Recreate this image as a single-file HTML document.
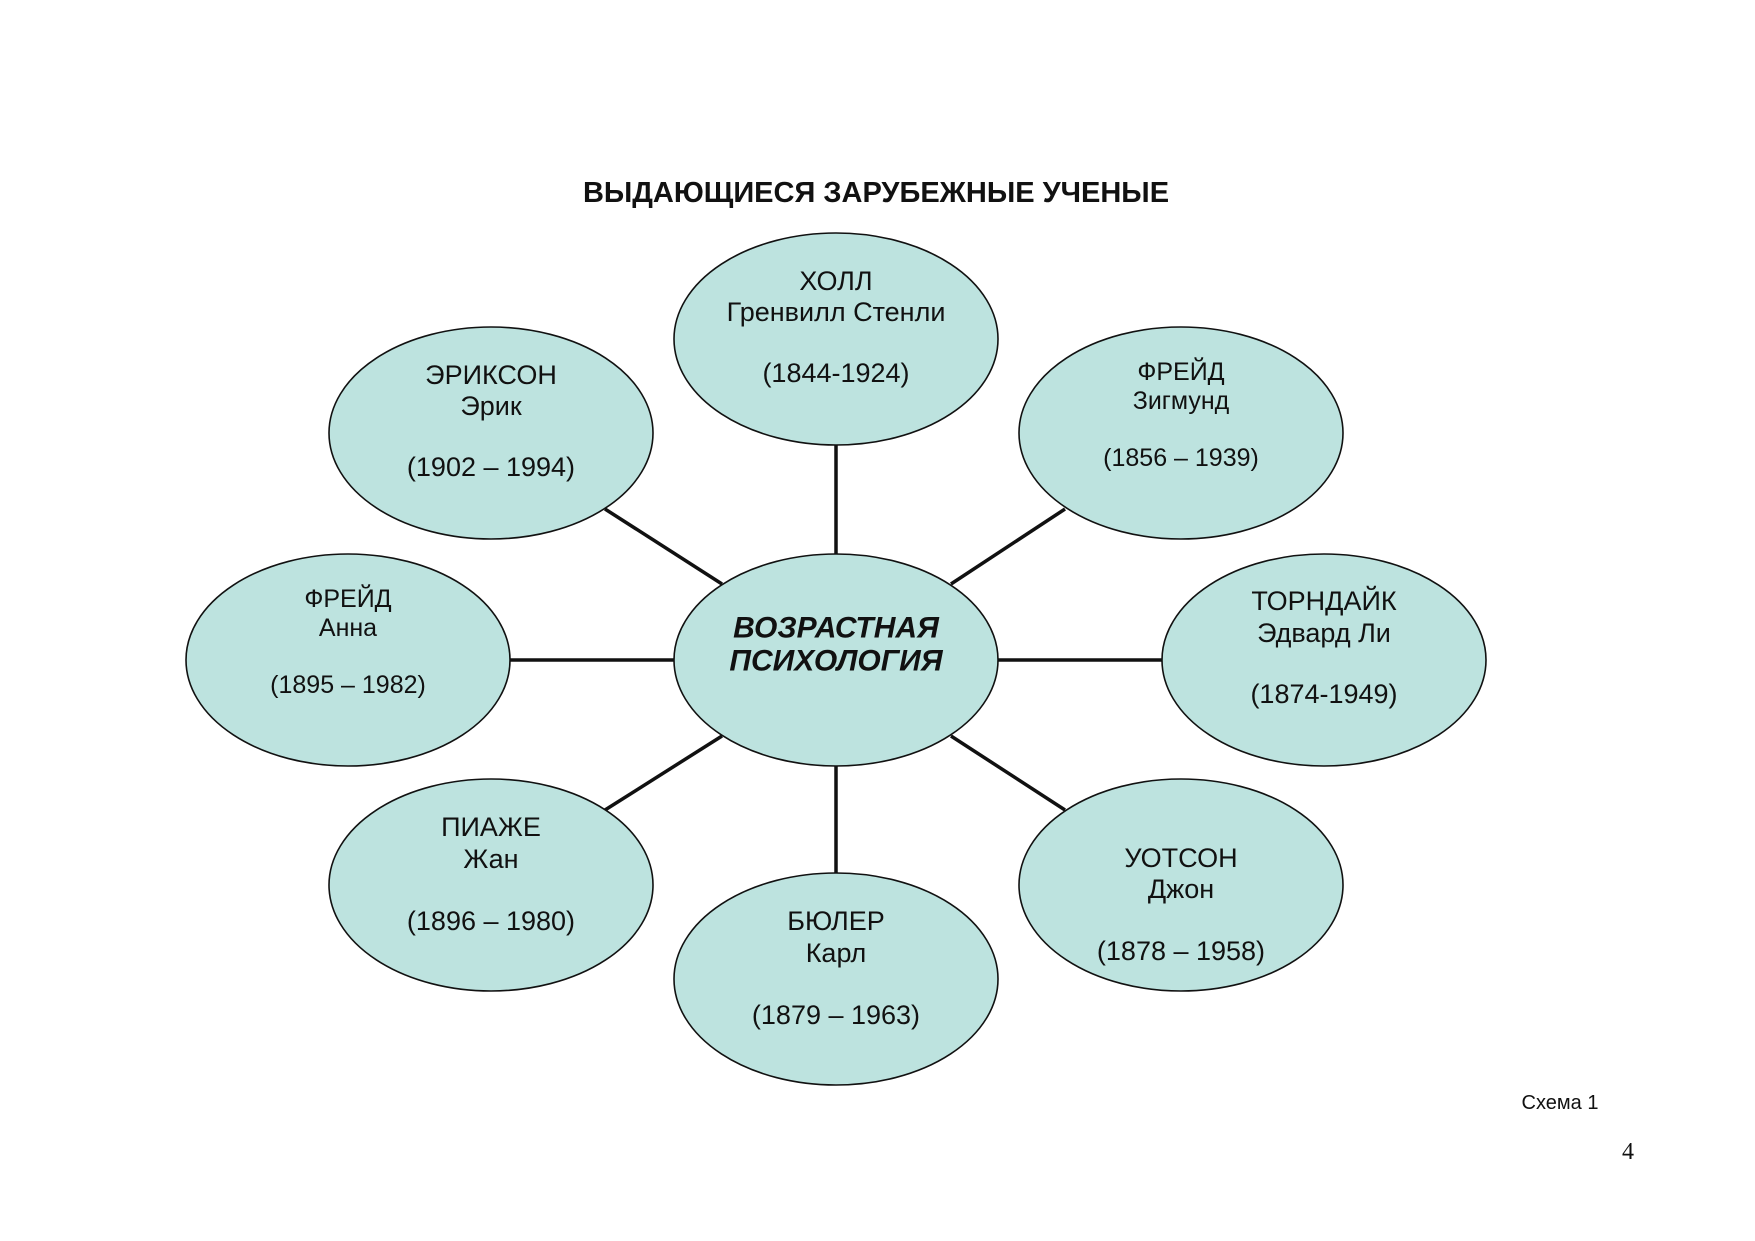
<!DOCTYPE html>
<html><head><meta charset="utf-8"><style>body{margin:0;background:#fff}svg{display:block}</style></head><body>
<svg width="1755" height="1241" viewBox="0 0 1755 1241" xmlns="http://www.w3.org/2000/svg" font-family="Liberation Sans, sans-serif">
<g stroke="#111" stroke-width="3.5">
<line x1="836" y1="444" x2="836" y2="555"/>
<line x1="836" y1="765" x2="836" y2="874"/>
<line x1="509" y1="660" x2="675" y2="660"/>
<line x1="997" y1="660" x2="1163" y2="660"/>
<line x1="605" y1="509" x2="722" y2="584"/>
<line x1="1065" y1="509" x2="951" y2="584"/>
<line x1="722" y1="736" x2="605" y2="810"/>
<line x1="951" y1="736" x2="1065" y2="810"/>
</g>
<g fill="#bde3df" stroke="#111" stroke-width="1.6">
<ellipse cx="836" cy="339" rx="162" ry="106"/>
<ellipse cx="491" cy="433" rx="162" ry="106"/>
<ellipse cx="1181" cy="433" rx="162" ry="106"/>
<ellipse cx="348" cy="660" rx="162" ry="106"/>
<ellipse cx="1324" cy="660" rx="162" ry="106"/>
<ellipse cx="491" cy="885" rx="162" ry="106"/>
<ellipse cx="1181" cy="885" rx="162" ry="106"/>
<ellipse cx="836" cy="979" rx="162" ry="106"/>
<ellipse cx="836" cy="660" rx="162" ry="106"/>
</g>
<g text-anchor="middle" dominant-baseline="central" fill="#111">
<text x="876" y="193" font-size="29" font-weight="bold">ВЫДАЮЩИЕСЯ ЗАРУБЕЖНЫЕ УЧЕНЫЕ</text>
<g font-size="27">
<text x="836" y="281">ХОЛЛ</text><text x="836" y="312">Гренвилл Стенли</text><text x="836" y="373">(1844-1924)</text>
<text x="491" y="375">ЭРИКСОН</text><text x="491" y="406">Эрик</text><text x="491" y="467">(1902 – 1994)</text>
<text x="1324" y="601">ТОРНДАЙК</text><text x="1324" y="633">Эдвард Ли</text><text x="1324" y="694">(1874-1949)</text>
<text x="491" y="827">ПИАЖЕ</text><text x="491" y="859">Жан</text><text x="491" y="921">(1896 – 1980)</text>
<text x="1181" y="858">УОТСОН</text><text x="1181" y="889">Джон</text><text x="1181" y="951">(1878 – 1958)</text>
<text x="836" y="921">БЮЛЕР</text><text x="836" y="953">Карл</text><text x="836" y="1015">(1879 – 1963)</text>
</g>
<g font-size="25">
<text x="1181" y="372">ФРЕЙД</text><text x="1181" y="401">Зигмунд</text><text x="1181" y="458">(1856 – 1939)</text>
<text x="348" y="599">ФРЕЙД</text><text x="348" y="628">Анна</text><text x="348" y="685">(1895 – 1982)</text>
</g>
<g font-size="30" font-weight="bold" font-style="italic">
<text x="836" y="628">ВОЗРАСТНАЯ</text><text x="836" y="661">ПСИХОЛОГИЯ</text>
</g>
<text x="1560" y="1103" font-size="20">Схема 1</text>
<text x="1628" y="1152" font-size="24" font-family="Liberation Serif, serif">4</text>
</g>
</svg>
</body></html>
